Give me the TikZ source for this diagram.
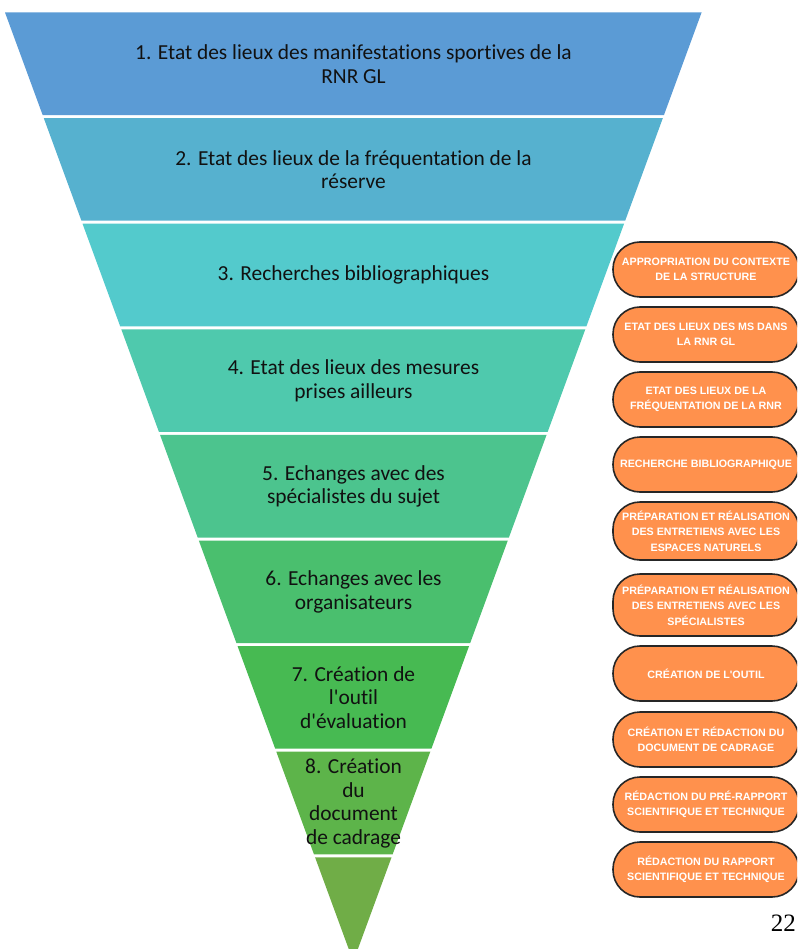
\documentclass[tikz,border=0pt]{standalone}
\usepackage{fontspec}
\setmainfont{Carlito}[Ligatures={TeXOff,NoCommon}]
\newfontfamily\pillfont{Liberation Sans}[Ligatures=TeXOff]
\newfontfamily\pagefont{Liberation Serif}
\definecolor{c1}{HTML}{5B9BD5}
\definecolor{c2}{HTML}{56B1CF}
\definecolor{c3}{HTML}{53CACC}
\definecolor{c4}{HTML}{4FC9AD}
\definecolor{c5}{HTML}{4CC48E}
\definecolor{c6}{HTML}{4ABF6E}
\definecolor{c7}{HTML}{47BA52}
\definecolor{c8}{HTML}{5DB44A}
\definecolor{c9}{HTML}{70AD47}
\definecolor{pillorange}{HTML}{FF914D}
\definecolor{txt}{HTML}{111111}
\tikzset{
  bandtext/.style={align=center, text=txt, inner sep=0pt, font=\fontsize{21.4}{23.6}\selectfont},
  pill/.style={draw=black!85, line width=1.6pt, fill=pillorange, rounded corners=27pt,
    minimum width=186pt, minimum height=55pt, inner sep=0pt, align=center, text=white,
    font=\pillfont\bfseries\fontsize{10.7}{15.5}\selectfont},
}
\begin{document}
\begin{tikzpicture}[x=1pt,y=-1pt]
\useasboundingbox (0,0) rectangle (797,949);
\clip (0,0) rectangle (797,949);
% funnel bands
\def\cx{353.3}
\def\apex{961.5}
\foreach \k/\col in {1/c1,2/c2,3/c3,4/c4,5/c5,6/c6,7/c7,8/c8,9/c9}{
  \pgfmathsetmacro\t{12.5+(\k-1)*105.6}
  \pgfmathsetmacro\b{\k==9 ? \apex : \t+102.6}
  \pgfmathsetmacro\wt{0.367*(\apex-\t)}
  \pgfmathsetmacro\wb{0.367*(\apex-\b)}
  \fill[\col] ({\cx-\wt},\t) -- ({\cx+\wt},\t) -- ({\cx+\wb},\b) -- ({\cx-\wb},\b) -- cycle;
}
% band texts
\node[bandtext] (t1) at (353.5,64) {1. Etat des lieux des manifestations sportives de la\\RNR GL};
\node[bandtext] (t2) at (353.5,169.6) {2. Etat des lieux de la fréquentation de la\\réserve};
\node[bandtext] (t3) at (353.5,275) {3. Recherches bibliographiques};
\node[bandtext] (t4) at (353.5,380.8) {4. Etat des lieux des mesures\\prises ailleurs};
\node[bandtext] (t5) at (353.5,486.4) {5. Echanges avec des\\spécialistes du sujet};
\node[bandtext] (t6) at (353.5,592) {6. Echanges avec les\\organisateurs};
\node[bandtext] (t7) at (353.5,697.6) {7. Création de\\l'outil\\d'évaluation};
\node[bandtext] (t8) at (353.5,803.5) {8. Création\\du\\document\\de cadrage};
% orange pills
\node[pill] (p1) at (706,269.5) {APPROPRIATION DU CONTEXTE\\DE LA STRUCTURE};
\node[pill] (p2) at (706,334.5) {ETAT DES LIEUX DES MS DANS\\LA RNR GL};
\node[pill] (p3) at (706,399.5) {ETAT DES LIEUX DE LA\\FRÉQUENTATION DE LA RNR};
\node[pill] (p4) at (706,464.5) {RECHERCHE BIBLIOGRAPHIQUE};
\node[pill, minimum height=58pt] (p5) at (706,531) {PRÉPARATION ET RÉALISATION\\DES ENTRETIENS AVEC LES\\ESPACES NATURELS};
\node[pill, minimum height=62pt] (p6) at (706,605) {PRÉPARATION ET RÉALISATION\\DES ENTRETIENS AVEC LES\\SPÉCIALISTES};
\node[pill] (p7) at (706,673.5) {CRÉATION DE L'OUTIL};
\node[pill] (p8) at (706,739.5) {CRÉATION ET RÉDACTION DU\\DOCUMENT DE CADRAGE};
\node[pill] (p9) at (706,804.5) {RÉDACTION DU PRÉ-RAPPORT\\SCIENTIFIQUE ET TECHNIQUE};
\node[pill] (p10) at (706,869.5) {RÉDACTION DU RAPPORT\\SCIENTIFIQUE ET TECHNIQUE};
% page number
\node[anchor=base east, inner sep=0pt, font=\pagefont\fontsize{25}{25}\selectfont] (pg) at (796,931.5) {22};
\end{tikzpicture}
\end{document}
